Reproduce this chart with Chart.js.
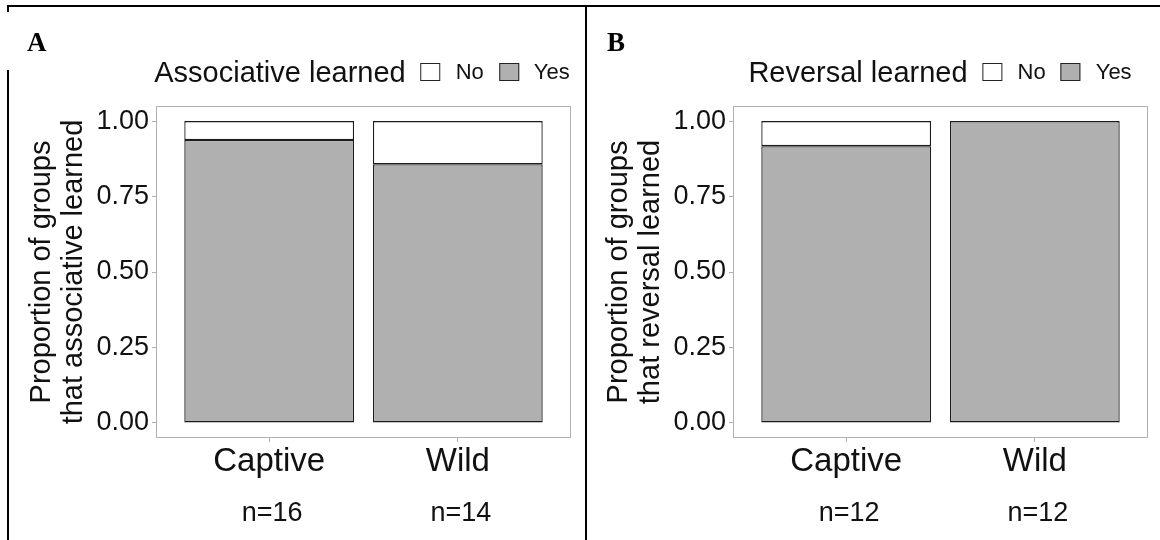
<!DOCTYPE html>
<html>
<head>
<meta charset="utf-8">
<script src="https://cdn.jsdelivr.net/npm/chart.js@4.4.1/dist/chart.umd.min.js"></script>
<style>
  html, body { margin: 0; padding: 0; background: #ffffff; }
  #page { position: relative; width: 1160px; height: 540px; overflow: hidden; background: #fff;
          font-family: "Liberation Sans", Arial, Helvetica, sans-serif; }
  canvas { position: absolute; top: 0; }
  .rule { position: absolute; background: #000; z-index: 5; }
  .tag { position: absolute; top: 29px; font-family: "Liberation Serif", "Times New Roman", serif;
         font-weight: bold; font-size: 27px; line-height: 27px; color: #000; z-index: 5; }
  .legend { position: absolute; top: 58px; height: 28px; display: flex; align-items: center;
            transform: translateX(-50%); white-space: nowrap; z-index: 5; color: #111; }
  .legend .ttl { font-size: 29px; line-height: 29px; margin-right: 15px; }
  .legend .key { width: 20px; height: 18px; box-sizing: border-box; border: 1.5px solid #222; margin-right: 15px; }
  .legend .lab { font-size: 22px; line-height: 22px; margin-right: 15px; }
  .legend .lab:last-child { margin-right: 0; }
</style>
</head>
<body>
<div id="page">
  <canvas id="chartA" width="580" height="540" style="left:0px;width:580px;height:540px"></canvas>
  <canvas id="chartB" width="580" height="540" style="left:577px;width:580px;height:540px"></canvas>

  <div class="rule" style="left:7px;top:5px;width:1153px;height:2px"></div>
  <div class="rule" style="left:7px;top:5px;width:2px;height:7px"></div>
  <div class="rule" style="left:7px;top:70px;width:2px;height:470px"></div>
  <div class="rule" style="left:585px;top:5px;width:2px;height:535px"></div>

  <div class="tag" style="left:27px">A</div>
  <div class="tag" style="left:607px">B</div>

  <div class="legend" id="legendA" style="left:362px"></div>
  <div class="legend" id="legendB" style="left:940px"></div>
</div>
<script>
// ---------------- data ----------------
const categories = ['Captive', 'Wild'];
const yTickValues = [0, 0.25, 0.5, 0.75, 1];
const legendLabels = ['No', 'Yes'];

const assocYes = [0.9375, 0.857];
const assocNo = [0.0625, 0.143];
const assocN = ['n=16', 'n=14'];

const reversalYes = [0.917, 1.0];
const reversalNo = [0.083, 0.0];
const reversalN = ['n=12', 'n=12'];

const titleA = 'Associative learned';
const titleB = 'Reversal learned';
const yTitleA = ['Proportion of groups', 'that associative learned'];
const yTitleB = ['Proportion of groups', 'that reversal learned'];

// ---------------- style ----------------
const FONT = '"Liberation Sans", Arial, Helvetica, sans-serif';
const YES_COLOR = '#b0b0b0';
const NO_COLOR = '#ffffff';
const EDGE = '#1c1c1c';
const FRAME = '#b0b0b0';
const TEXT = '#111111';

Chart.defaults.font.family = FONT;
Chart.defaults.color = TEXT;

function buildLegend(id, title) {
  const el = document.getElementById(id);
  const t = document.createElement('span');
  t.className = 'ttl'; t.textContent = title; el.appendChild(t);
  const fills = [NO_COLOR, YES_COLOR];
  legendLabels.forEach((lab, i) => {
    const k = document.createElement('span');
    k.className = 'key'; k.style.background = fills[i]; el.appendChild(k);
    const s = document.createElement('span');
    s.className = 'lab'; s.textContent = lab; el.appendChild(s);
  });
}

const framePlugin = {
  id: 'frameAndN',
  afterDraw(chart, args, opts) {
    const { ctx, chartArea: { left, top, right, bottom } } = chart;
    ctx.save();
    ctx.strokeStyle = FRAME;
    ctx.lineWidth = 1;
    ctx.strokeRect(left + 0.5, top + 0.5, right - left - 1, bottom - top - 1);
    const xs = chart.scales.x;
    ctx.fillStyle = TEXT;
    ctx.font = '27px ' + FONT;
    ctx.textAlign = 'center';
    ctx.textBaseline = 'alphabetic';
    (opts.labels || []).forEach((t, i) => {
      ctx.fillText(t, xs.getPixelForValue(i + 1) + 3, 521);
    });
    ctx.restore();
  }
};

function makePanel(canvasId, yes, no, yTitle, nLabels) {
  const toPts = arr => arr.map((v, i) => ({ x: i + 1, y: v }));
  const barStyle = {
    borderColor: EDGE, borderWidth: 1.3, borderSkipped: false,
    barPercentage: 0.9, categoryPercentage: 1.0
  };
  return new Chart(document.getElementById(canvasId), {
    type: 'bar',
    data: {
      datasets: [
        Object.assign({ label: legendLabels[1], data: toPts(yes), backgroundColor: YES_COLOR }, barStyle),
        Object.assign({ label: legendLabels[0], data: toPts(no), backgroundColor: NO_COLOR }, barStyle)
      ]
    },
    options: {
      responsive: false,
      animation: false,
      devicePixelRatio: 1,
      layout: { padding: { top: 106, right: 9, left: 0, bottom: 0 } },
      plugins: {
        legend: { display: false },
        tooltip: { enabled: false },
        frameAndN: { labels: nLabels }
      },
      scales: {
        x: {
          type: 'linear', stacked: true, min: 0.4, max: 2.6, offset: false,
          afterBuildTicks: ax => { ax.ticks = categories.map((c, i) => ({ value: i + 1 })); },
          afterFit: s => { s.height = 102; },
          ticks: {
            callback: v => categories[Math.round(v) - 1],
            font: { size: 33 }, color: TEXT, padding: 0,
            autoSkip: false, maxRotation: 0, minRotation: 0
          },
          grid: { drawOnChartArea: false, drawTicks: true, tickLength: 4, color: FRAME, offset: false },
          border: { display: false }
        },
        y: {
          stacked: true, min: -0.05, max: 1.05,
          afterBuildTicks: ax => { ax.ticks = yTickValues.map(v => ({ value: v })); },
          afterFit: s => { s.width = 156; },
          ticks: {
            callback: v => Number(v).toFixed(2),
            font: { size: 27 }, color: TEXT, padding: 3
          },
          grid: { drawOnChartArea: false, drawTicks: true, tickLength: 4, color: FRAME },
          border: { display: false },
          title: {
            display: true, text: yTitle, color: TEXT,
            font: { size: 29, lineHeight: 1.1 },
            padding: { top: 26, bottom: 0 }
          }
        }
      }
    },
    plugins: [framePlugin]
  });
}

buildLegend('legendA', titleA);
buildLegend('legendB', titleB);
makePanel('chartA', assocYes, assocNo, yTitleA, assocN);
makePanel('chartB', reversalYes, reversalNo, yTitleB, reversalN);
</script>
</body>
</html>
